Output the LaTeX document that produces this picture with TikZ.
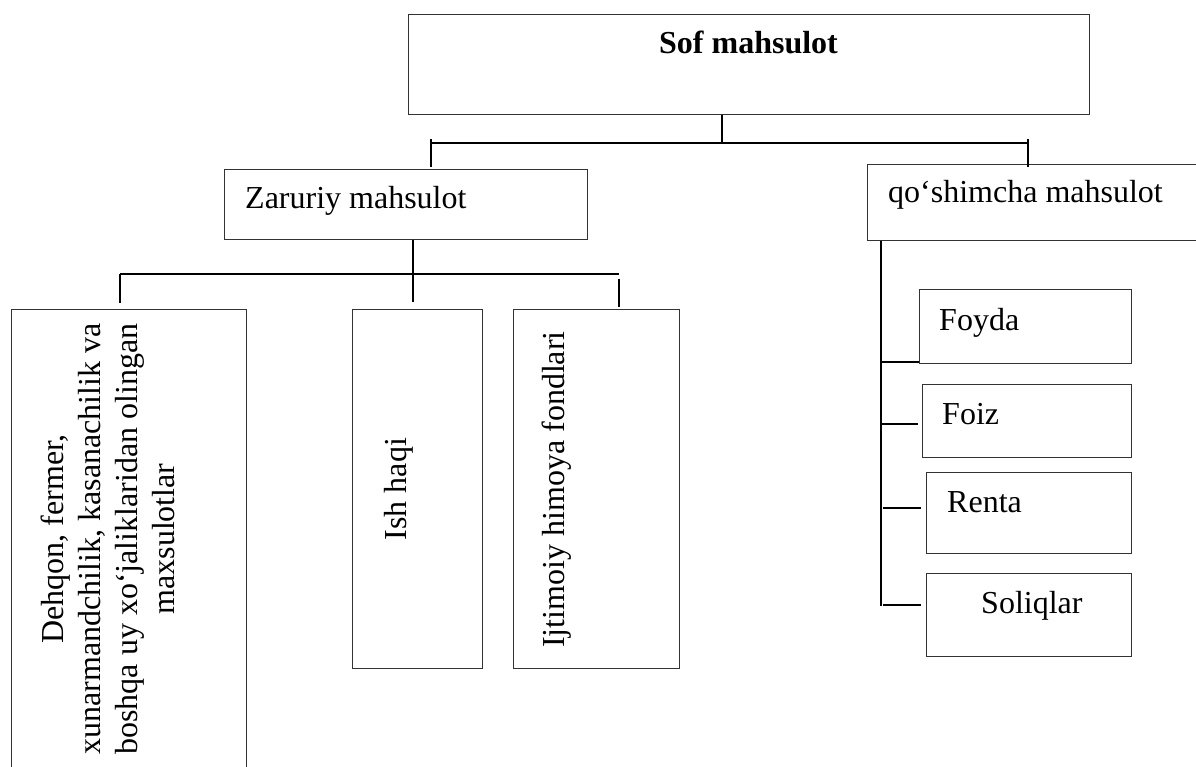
\documentclass[tikz,border=0pt]{standalone}
\usepackage{fontspec}
\setmainfont{Liberation Serif}
\begin{document}
\begin{tikzpicture}[x=1pt,y=-1pt,
  box/.style={draw=black!80, line width=1.2pt, inner sep=0pt, anchor=north west},
  conn/.style={draw=black, line width=1.8pt},
  lbl/.style={font=\fontsize{32}{37}\selectfont, inner sep=0pt}]
\useasboundingbox (0,0) rectangle (1196,767);
% boxes
\node[box, minimum width=681pt, minimum height=100pt] (sof) at (408,14) {};
\node[box, minimum width=363pt, minimum height=70pt] (zar) at (224,169) {};
\node[box, minimum width=340pt, minimum height=76pt] (qos) at (867,164) {};
\node[box, minimum width=235pt, minimum height=460pt] (deh) at (11,309) {};
\node[box, minimum width=130pt, minimum height=359pt] (ish) at (352,309) {};
\node[box, minimum width=166pt, minimum height=359pt] (ijt) at (513,309) {};
\node[box, minimum width=212pt, minimum height=74pt] (foy) at (919,289) {};
\node[box, minimum width=209pt, minimum height=73pt] (foi) at (922,384) {};
\node[box, minimum width=205pt, minimum height=81pt] (ren) at (926,472) {};
\node[box, minimum width=205pt, minimum height=83pt] (sol) at (926,573) {};
% texts
\node[lbl, font=\bfseries\fontsize{32}{37}\selectfont, anchor=base] (sofT) at (748.5,54) {Sof mahsulot};
\node[lbl, anchor=base west] (zarT) at (245,209) {Zaruriy mahsulot};
\node[lbl, anchor=base west] (qosT) at (888,203) {qo‘shimcha mahsulot};
\node[lbl, anchor=base west] (foyT) at (939,330) {Foyda};
\node[lbl, anchor=base west] (foiT) at (942,424) {Foiz};
\node[lbl, anchor=base west] (renT) at (947,512) {Renta};
\node[lbl, anchor=base west] (solT) at (981,613) {Soliqlar};
\node[lbl, rotate=90, anchor=base] (ishT) at (406,489) {Ish haqi};
\node[lbl, rotate=90, anchor=base] (ijtT) at (564,489.5) {Ijtimoiy himoya fondlari};
\node[lbl, rotate=90, anchor=north, align=center] (dehT) at (41,539)
  {Dehqon, fermer,\\ xunarmandchilik, kasanachilik va\\ boshqa uy xo‘jaliklaridan olingan\\ maxsulotlar};
% connectors: level 1
\coordinate (j1) at (722,143);
\coordinate (b1L) at (431,143);
\coordinate (b1R) at (1028,143);
\draw[conn] (sof.south -| j1) -- (j1);
\draw[conn] (b1L) -- (b1R);
\draw[conn] ([yshift=4pt]b1L) -- ++(0,28);
\draw[conn] ([yshift=4pt]b1R) -- ++(0,28);
% connectors: level 2 (left)
\coordinate (j2) at (413,274);
\coordinate (b2L) at (120,274);
\coordinate (b2R) at (619,274);
\draw[conn] (zar.south -| j2) -- ++(0,62);
\draw[conn] (b2L) -- (b2R);
\draw[conn] (b2L) -- ([yshift=6pt]b2L |- deh.north);
\draw[conn] ([yshift=-5pt]b2R) -- ([yshift=2pt]b2R |- ijt.north);
% connectors: right side
\coordinate (j3) at (881,240);
\coordinate (j3b) at (881,606);
\draw[conn] (qos.south -| j3) -- (j3b);
\coordinate (s1) at (881,362);
\coordinate (s2) at (881,424);
\coordinate (s3) at (883,508);
\coordinate (s4) at (883,605);
\draw[conn] (s1) -- (s1 -| foy.west);
\draw[conn] (s2) -- ([xshift=-4pt]s2 -| foi.west);
\draw[conn] (s3) -- ([xshift=-5pt]s3 -| ren.west);
\draw[conn] (s4) -- ([xshift=-5pt]s4 -| sol.west);
\end{tikzpicture}
\end{document}
